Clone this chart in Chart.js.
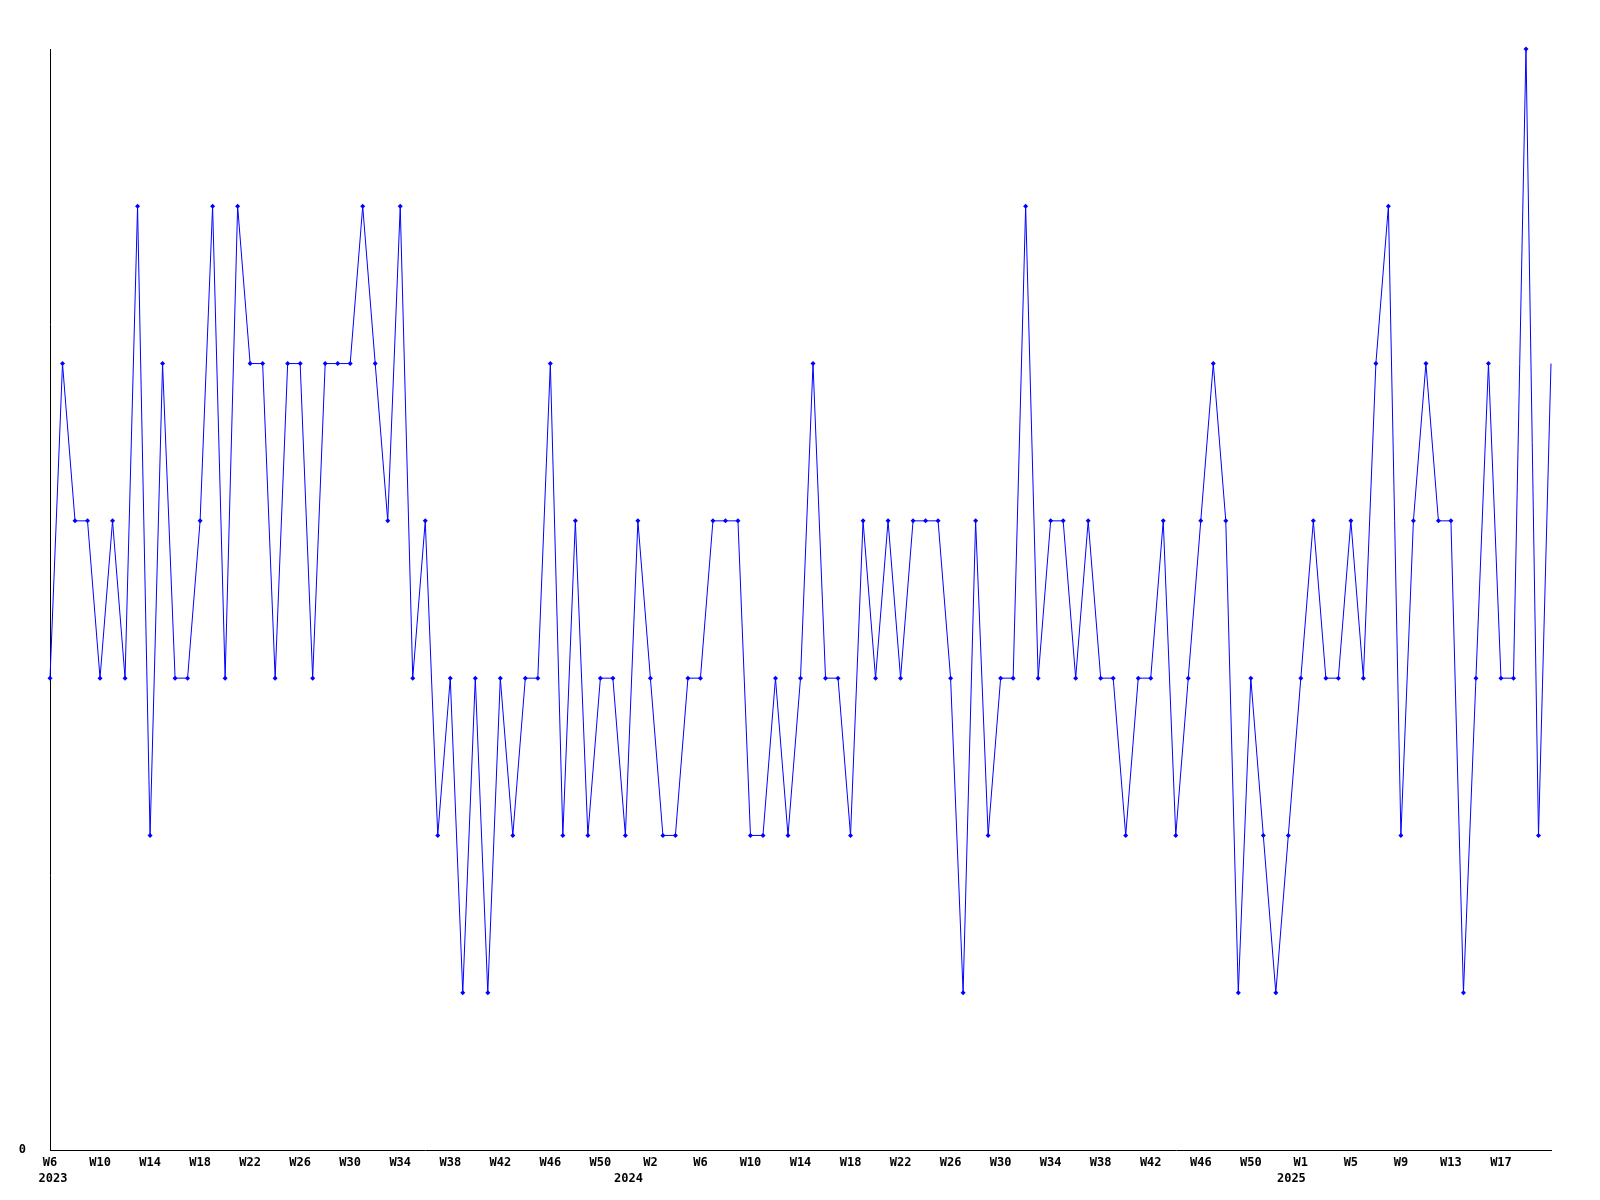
<!DOCTYPE html>
<html>
<head>
<meta charset="utf-8">
<title>Weekly chart</title>
<script src="https://cdn.jsdelivr.net/npm/chart.js@4.4.1/dist/chart.umd.min.js"></script>
<style>
  html, body { margin: 0; padding: 0; background: #fff; }
  canvas { display: block; }
</style>
</head>
<body>
<canvas id="weeklyChart" width="1600" height="1200"></canvas>
<script>
// weeks shown per year (2024 runs to W53 in this numbering)
const weeks2023 = [6, 52];
const weeks2024 = [1, 53];
const weeks2025 = [1, 21];

// weekly values, W6 2023 .. W21 2025
const values2023 = [
    3, 5, 4, 4, 3, 4, 3, 6, 2, 5, 3, 3, 4, 6, 3, 6, 5, 5, 3, 5,
    5, 3, 5, 5, 5, 6, 5, 4, 6, 3, 4, 2, 3, 1, 3, 1, 3, 2, 3, 3,
    5, 2, 4, 2, 3, 3, 2
];
const values2024 = [
    4, 3, 2, 2, 3, 3, 4, 4, 4, 2, 2, 3, 2, 3, 5, 3, 3, 2, 4, 3,
    4, 3, 4, 4, 4, 3, 1, 4, 2, 3, 3, 6, 3, 4, 4, 3, 4, 3, 3, 2,
    3, 3, 4, 2, 3, 4, 5, 4, 1, 3, 2, 1, 2
];
const values2025 = [
    3, 4, 3, 3, 4, 3, 5, 6, 2, 4, 5, 4, 4, 1, 3, 5, 3, 3, 7, 2,
    5
];

const yMin = 0;
const yMax = 7;

// build week labels and remember which year each one belongs to
const labels = [];
const yearOf = [];
function addYear(year, range) {
    for (let w = range[0]; w <= range[1]; w++) {
        labels.push('W' + w);
        yearOf.push(year);
    }
}
addYear(2023, weeks2023);
addYear(2024, weeks2024);
addYear(2025, weeks2025);
const values = values2023.concat(values2024, values2025);
const lastIndex = values.length - 1;

// year caption sits at the first week of each year (2023 starts mid-year)
const yearTick = {};
labels.forEach((l, i) => {
    if (l === 'W1' && yearTick[yearOf[i]] === undefined) yearTick[yearOf[i]] = i;
});
yearTick[2023] = 1;

Chart.defaults.font.family = '"DejaVu Sans Mono", "Liberation Mono", monospace';
Chart.defaults.font.size = 12;
Chart.defaults.font.weight = 'bold';
Chart.defaults.color = '#000';

new Chart(document.getElementById('weeklyChart').getContext('2d'), {
    type: 'line',
    data: {
        labels: labels,
        datasets: [{
            data: values,
            borderColor: '#0000ff',
            backgroundColor: '#0000ff',
            borderWidth: 1,
            fill: false,
            tension: 0,
            clip: false,
            pointStyle: 'rectRot',
            pointRadius: ctx => ctx.dataIndex === lastIndex ? 0 : 2.5,
            pointBorderWidth: 0,
            pointBackgroundColor: '#0000ff'
        }]
    },
    options: {
        responsive: false,
        animation: false,
        events: [],
        layout: { padding: { top: 49, right: 49, left: 0, bottom: 0 } },
        plugins: {
            legend: { display: false },
            tooltip: { enabled: false }
        },
        scales: {
            x: {
                type: 'category',
                offset: false,
                weight: 0,
                grid: { display: false },
                border: { display: true, color: '#000', width: 1 },
                afterFit: scale => { scale.height = 18; },
                ticks: {
                    autoSkip: false,
                    maxRotation: 0,
                    minRotation: 0,
                    padding: -3,
                    font: { lineHeight: 1.25 },
                    callback: (val, index) =>
                        (index % 4 !== 0 || index === lastIndex) ? '' : labels[index]
                }
            },
            year: {
                type: 'category',
                position: 'bottom',
                offset: false,
                weight: 1,
                grid: { display: false },
                border: { display: false },
                afterFit: scale => { scale.height = 32; },
                ticks: {
                    autoSkip: false,
                    maxRotation: 0,
                    minRotation: 0,
                    align: 'end',
                    labelOffset: 5,
                    padding: -5,
                    font: { lineHeight: 1.25 },
                    callback: (val, index) => {
                        const y = yearOf[index];
                        return yearTick[y] === index ? String(y) : '';
                    }
                }
            },
            y: {
                min: yMin,
                max: yMax,
                grid: { display: false },
                border: { display: true, color: '#000', width: 1 },
                afterFit: scale => { scale.width = 50; },
                ticks: {
                    stepSize: 1,
                    padding: 16,
                    callback: value => value === 0 ? '0' : ''
                }
            }
        }
    }
});
</script>
</body>
</html>
